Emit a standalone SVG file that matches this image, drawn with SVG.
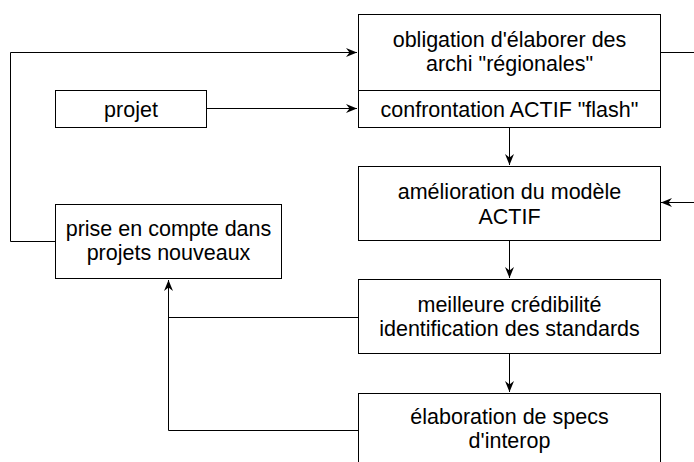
<svg xmlns="http://www.w3.org/2000/svg" width="694" height="462" viewBox="0 0 694 462">
  <style>
    .box { fill: #ffffff; stroke: #000000; stroke-width: 1; }
    .lbl { font-family: "Liberation Sans", Arial, sans-serif; font-size: 21.5px; fill: #000000; text-anchor: middle; }
    .wire { fill: none; stroke: #000000; stroke-width: 1; }
    .arr { marker-end: url(#head); }
  </style>
  <defs>
    <marker id="head" viewBox="0 0 11 9" refX="11" refY="4.5" markerWidth="11" markerHeight="9" markerUnits="userSpaceOnUse" orient="auto">
      <path d="M0,0 L11,4.5 L0,9 L3.5,4.5 Z" fill="#000000"/>
    </marker>
  </defs>
  <rect width="694" height="462" fill="#ffffff"/>

  <g id="connectors">
    <!-- feedback loop from "prise en compte" up to the top box -->
    <polyline class="wire arr" points="55,241.5 10.5,241.5 10.5,52.5 357,52.5"/>
    <!-- projet feeds the flash confrontation -->
    <line class="wire arr" x1="207" y1="108.5" x2="357" y2="108.5"/>
    <!-- top box exits to the right -->
    <line class="wire" x1="660" y1="52.5" x2="694" y2="52.5"/>
    <!-- incoming from the right -->
    <line class="wire arr" x1="694" y1="202.5" x2="661" y2="202.5"/>
    <!-- main vertical chain -->
    <line class="wire arr" x1="509.5" y1="128" x2="509.5" y2="165"/>
    <line class="wire arr" x1="509.5" y1="241" x2="509.5" y2="278"/>
    <line class="wire arr" x1="509.5" y1="354" x2="509.5" y2="392"/>
    <!-- returns into "prise en compte" -->
    <line class="wire" x1="358" y1="317.5" x2="168.5" y2="317.5"/>
    <polyline class="wire arr" points="358,430.5 168.5,430.5 168.5,280"/>
  </g>

  <g id="node-obligation">
    <rect class="box" x="358.5" y="14.5" width="302" height="113"/>
    <line class="wire" x1="358.5" y1="90.5" x2="660.5" y2="90.5"/>
    <text class="lbl" x="509.5" y="47">obligation d'élaborer des</text>
    <text class="lbl" x="509.5" y="71">archi "régionales"</text>
    <text class="lbl" x="509.5" y="117">confrontation ACTIF "flash"</text>
  </g>

  <g id="node-projet">
    <rect class="box" x="55.5" y="90.5" width="151" height="37"/>
    <text class="lbl" x="131" y="117">projet</text>
  </g>

  <g id="node-amelioration">
    <rect class="box" x="358.5" y="166.5" width="302" height="74"/>
    <text class="lbl" x="509.5" y="199">amélioration du modèle</text>
    <text class="lbl" x="509.5" y="224">ACTIF</text>
  </g>

  <g id="node-prise">
    <rect class="box" x="55.5" y="204.5" width="226" height="74"/>
    <text class="lbl" x="168.5" y="236">prise en compte dans</text>
    <text class="lbl" x="168.5" y="260">projets nouveaux</text>
  </g>

  <g id="node-credibilite">
    <rect class="box" x="358.5" y="279.5" width="302" height="74"/>
    <text class="lbl" x="509.5" y="312">meilleure crédibilité</text>
    <text class="lbl" x="509.5" y="336">identification des standards</text>
  </g>

  <g id="node-specs">
    <rect class="box" x="358.5" y="393.5" width="302" height="80"/>
    <text class="lbl" x="509.5" y="424">élaboration de specs</text>
    <text class="lbl" x="509.5" y="448">d'interop</text>
  </g>
</svg>
